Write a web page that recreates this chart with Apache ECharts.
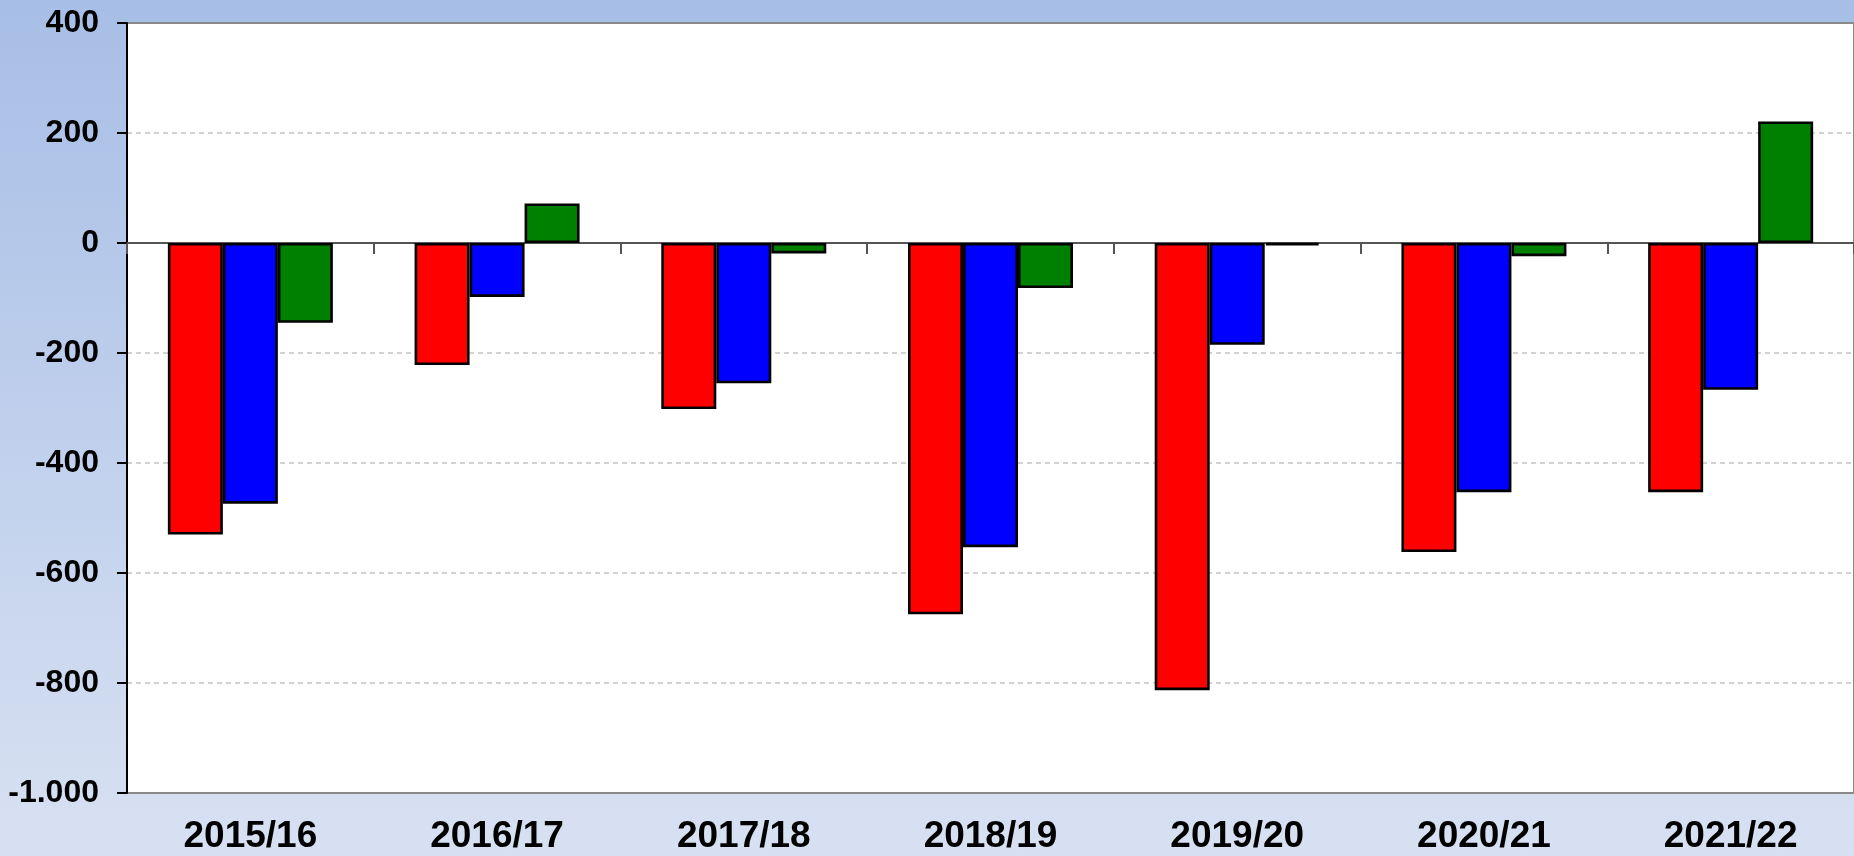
<!DOCTYPE html>
<html>
<head>
<meta charset="utf-8">
<script src="https://cdn.jsdelivr.net/npm/echarts@6/dist/echarts.min.js"></script>
<style>
    html, body { margin: 0; padding: 0; }
    #main {
        width: 1854px;
        height: 856px;
        background: linear-gradient(to bottom, #a7bee6 0%, #d8e1f2 100%);
    }
</style>
</head>
<body>
<div id="main"></div>
<script>
// Kategorien (Jahre)
var years = ['2015/16', '2016/17', '2017/18', '2018/19', '2019/20', '2020/21', '2021/22'];
// Werte der drei Reihen
var redValues = [-530, -222, -302, -675, -813, -562, -453];
var blueValues = [-474, -98, -255, -553, -185, -453, -267];
var greenValues = [-145, 72, -19, -82, -4, -24, 221];
// Achse
var yMin = -1000, yMax = 400, yStep = 200;

function fmtNum(v) {
    var s = String(Math.abs(v));
    if (s.length > 3) {
        s = s.slice(0, s.length - 3) + '.' + s.slice(s.length - 3);
    };
    return (v < 0 ? '-' : '') + s;
}

function barSeries(data, color) {
    return {
        type: 'bar',
        xAxisIndex: 0,
        data: data,
        barWidth: 55,
        barGap: '0%',
        itemStyle: {
            color: color,
            borderColor: '#000',
            borderWidth: 2.6
        },
        emphasis: { disabled: true }
    };
}

var myChart = echarts.init(document.getElementById('main'));
var option = {
    backgroundColor: 'transparent',
    animation: false,
    grid: {
        left: 127,
        top: 23,
        bottom: 63,
        width: 1731,
        show: true,
        backgroundColor: '#fff',
        borderColor: '#8a8a8a',
        borderWidth: 2
    },
    xAxis: [{
        // Beschriftung unten
        type: 'category',
        data: years,
        position: 'bottom',
        axisLine: { show: false, onZero: false },
        axisTick: { show: false },
        axisLabel: {
            margin: 25,
            fontFamily: 'Liberation Sans, Arial, sans-serif',
            fontWeight: 'bold',
            fontSize: 37,
            color: '#000'
        }
    }, {
        // Nulllinie mit Strichen
        type: 'category',
        data: years,
        position: 'bottom',
        axisLine: { show: true, onZero: true, lineStyle: { color: '#555', width: 2 } },
        axisTick: { show: true, length: 11, lineStyle: { color: '#555', width: 2 } },
        axisLabel: { show: false }
    }],
    yAxis: {
        type: 'value',
        min: yMin,
        max: yMax,
        interval: yStep,
        axisLine: { show: true, lineStyle: { color: '#000', width: 2 } },
        axisTick: { show: true, length: 10, lineStyle: { color: '#000', width: 2 } },
        axisLabel: {
            margin: 28,
            fontFamily: 'Liberation Sans, Arial, sans-serif',
            fontWeight: 'bold',
            fontSize: 32,
            color: '#000',
            formatter: fmtNum
        },
        splitLine: {
            show: true,
            showMinLine: false,
            showMaxLine: false,
            lineStyle: { color: '#c4c4c4', width: 1.5, type: [5, 4] }
        }
    },
    series: [
        barSeries(redValues, '#ff0000'),
        barSeries(blueValues, '#0000ff'),
        barSeries(greenValues, '#008000')
    ]
};
myChart.setOption(option);
</script>
</body>
</html>
